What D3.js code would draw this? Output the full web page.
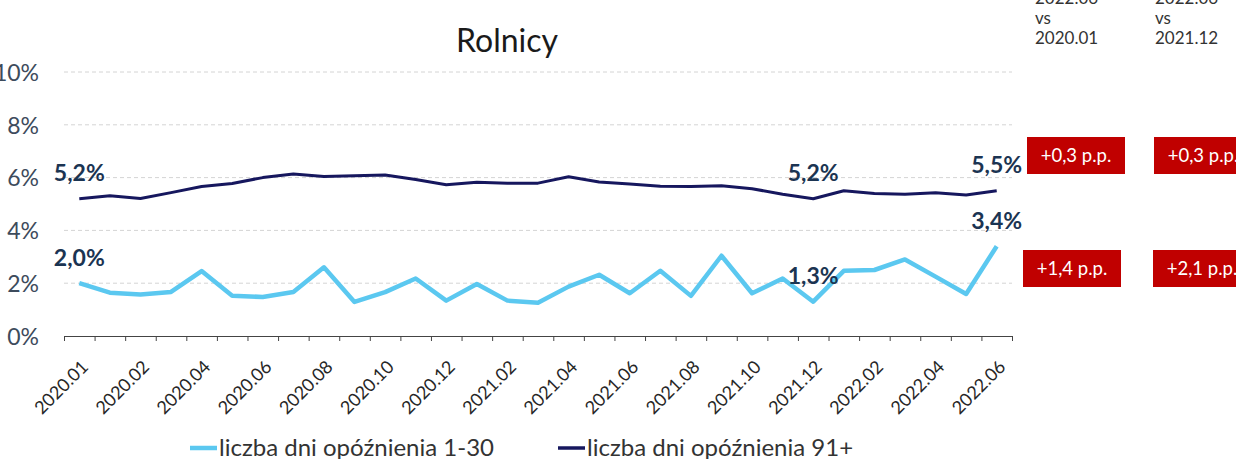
<!DOCTYPE html>
<html>
<head>
<meta charset="utf-8">
<script src="https://cdn.jsdelivr.net/npm/d3@7"></script>
<style>
  html, body { margin: 0; padding: 0; background: #fff; }
  svg { display: block; font-family: Lato, "Open Sans", sans-serif; }
</style>
</head>
<body>
<svg id="chart" width="1236" height="459"></svg>
<script>
// Share of loans by days past due, farmers segment (monthly, %)
const tickLabels = ["2020.01", "2020.02", "2020.04", "2020.06", "2020.08", "2020.10", "2020.12",
  "2021.02", "2021.04", "2021.06", "2021.08", "2021.10", "2021.12",
  "2022.02", "2022.04", "2022.06"];

const late1to30 = [2.0, 1.64, 1.57, 1.67, 2.46, 1.52, 1.48, 1.67, 2.6, 1.29, 1.66,
  2.18, 1.34, 1.97, 1.34, 1.26, 1.87, 2.32, 1.62, 2.47, 1.52,
  3.04, 1.62, 2.18, 1.3, 2.47, 2.5, 2.9, 2.25, 1.59, 3.4];

const late91plus = [5.2, 5.31, 5.21, 5.43, 5.66, 5.78, 6.0, 6.14, 6.04, 6.07, 6.1,
  5.93, 5.73, 5.82, 5.79, 5.79, 6.03, 5.83, 5.76, 5.67, 5.66,
  5.69, 5.58, 5.37, 5.2, 5.5, 5.4, 5.37, 5.43, 5.34, 5.5];

const yTicks = [0, 2, 4, 6, 8, 10];
const seriesNames = ["liczba dni opóźnienia 1-30", "liczba dni opóźnienia 91+"];
const compareHeaders = [["2022.06", "vs", "2020.01"], ["2022.06", "vs", "2021.12"]];
const labelledIdx = [0, 24, 30];   // points carrying value labels
const baseIdx = [0, 24];           // comparison bases for the change boxes

const colLight = "#5bc8f0";
const colDark = "#16175e";
const labelCol = "#1b3452";

const svg = d3.select("#chart");
const n = late1to30.length;

const x = d3.scaleBand().domain(d3.range(n)).range([64, 1012]).padding(0);
const edge = d3.scaleLinear().domain([0, n]).range([64, 1012]);
const y = d3.scaleLinear().domain([0, 10]).range([336, 72]);
const cx = i => x(i) + x.bandwidth() / 2;

const pct = v => d3.format(".1f")(v).replace(".", ",") + "%";
const pp = v => (v >= 0 ? "+" : "") + d3.format(".1f")(v).replace(".", ",") + " p.p.";

// title
svg.append("text").attr("x", 507).attr("y", 52).attr("text-anchor", "middle")
  .attr("font-size", 32).attr("fill", "#1a1a1a").text("Rolnicy");

// gridlines
svg.append("g").selectAll("line").data(yTicks.filter(d => d > 0)).join("line")
  .attr("x1", 64).attr("x2", 1012)
  .attr("y1", d => y(d)).attr("y2", d => y(d))
  .attr("stroke", "#d4d4d4").attr("stroke-width", 1).attr("stroke-dasharray", "4 3");

// y axis labels
const yAxis = svg.append("g").attr("transform", "translate(39,0)")
  .call(d3.axisLeft(y).tickValues(yTicks).tickFormat(d => d + "%").tickSize(0).tickPadding(0));
yAxis.select(".domain").remove();
yAxis.selectAll("text").attr("font-size", 23).attr("fill", "#3d4b5c")
  .attr("font-family", "Lato, sans-serif").attr("dy", "0.36em");

// x axis with ticks on category edges
const xAxis = svg.append("g").attr("transform", "translate(0,336)")
  .call(d3.axisBottom(edge).tickValues(d3.range(n + 1)).tickFormat("").tickSize(5).tickSizeOuter(0));
xAxis.select(".domain").attr("stroke", "#444");
xAxis.selectAll(".tick line").attr("stroke", "#444");

svg.append("g").selectAll("text").data(tickLabels).join("text")
  .attr("transform", (d, k) => `translate(${cx(k * 2) + 10},368) rotate(-45)`)
  .attr("text-anchor", "end").attr("font-size", 18).attr("fill", "#262626")
  .text(d => d);

// lines
const line = d3.line().x((d, i) => cx(i)).y(d => y(d));
svg.append("path").datum(late91plus).attr("d", line)
  .attr("fill", "none").attr("stroke", colDark).attr("stroke-width", 3).attr("stroke-linejoin", "round");
svg.append("path").datum(late1to30).attr("d", line)
  .attr("fill", "none").attr("stroke", colLight).attr("stroke-width", 4.5).attr("stroke-linejoin", "round");

// value labels
[late91plus, late1to30].forEach(series => {
  svg.append("g").selectAll("text").data(labelledIdx).join("text")
    .attr("x", i => cx(i)).attr("y", i => y(series[i]) - 17.5)
    .attr("text-anchor", "middle").attr("font-size", 23).attr("font-weight", 700)
    .attr("fill", labelCol).text(i => pct(series[i]));
});

// comparison headers
const colX = [1035, 1155];
compareHeaders.forEach((lines, c) => {
  svg.append("g").selectAll("text").data(lines).join("text")
    .attr("x", colX[c]).attr("y", (d, k) => 4 + k * 20)
    .attr("font-size", 17).attr("fill", "#333").text(d => d);
});

// change boxes
const boxX = [[1027, 1154], [1023, 1153]];
const boxY = [137, 250];
[late91plus, late1to30].forEach((series, r) => {
  baseIdx.forEach((b, c) => {
    const delta = series[n - 1] - series[b];
    const g = svg.append("g").attr("transform", `translate(${boxX[r][c]},${boxY[r]})`);
    g.append("rect").attr("width", 98).attr("height", 37).attr("fill", "#c00000");
    g.append("text").attr("x", 49).attr("y", 25).attr("text-anchor", "middle")
      .attr("font-size", 18.5).attr("fill", "#fff").text(pp(delta));
  });
});

// legend
const legendX = [190, 558];
[colLight, colDark].forEach((col, k) => {
  const g = svg.append("g").attr("transform", `translate(${legendX[k]},0)`);
  g.append("line").attr("x1", 0).attr("x2", 27).attr("y1", 448).attr("y2", 448)
    .attr("stroke", col).attr("stroke-width", k === 0 ? 4.5 : 3.5);
  g.append("text").attr("x", 29).attr("y", 456).attr("font-size", 24).attr("fill", "#333")
    .text(seriesNames[k]);
});
</script>
</body>
</html>
